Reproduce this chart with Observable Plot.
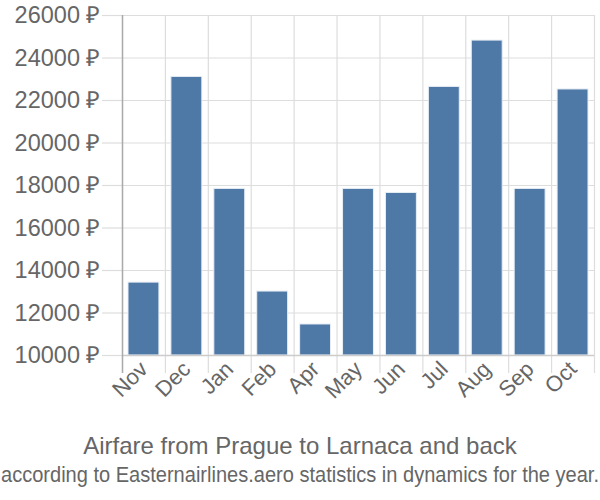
<!DOCTYPE html>
<html>
<head>
<meta charset="utf-8">
<script src="https://cdn.jsdelivr.net/npm/d3@7"></script>
<script src="https://cdn.jsdelivr.net/npm/@observablehq/plot@0.6"></script>
<style>
  html, body { margin: 0; padding: 0; background: #fff; }
  body { width: 600px; height: 500px; overflow: hidden; font-family: "Liberation Sans", Arial, sans-serif; }
  #chart svg, #caption svg { display: block; }
</style>
</head>
<body>
<div id="chart"></div>
<div id="caption">
  <svg width="600" height="80" viewBox="0 0 600 80" font-family="Liberation Sans, Arial, sans-serif" fill="#666">
    <text x="300" y="34" text-anchor="middle" font-size="24">Airfare from Prague to Larnaca and back</text>
    <text x="1" y="62" font-size="22.5" textLength="598" lengthAdjust="spacingAndGlyphs">according to Easternairlines.aero statistics in dynamics for the year.</text>
  </svg>
</div>
<script>
const months = ["Nov", "Dec", "Jan", "Feb", "Apr", "May", "Jun", "Jul", "Aug", "Sep", "Oct"];
const prices = [13430, 23110, 17840, 13010, 11460, 17840, 17650, 22640, 24820, 17840, 22520];
const yTicks = [10000, 12000, 14000, 16000, 18000, 20000, 22000, 24000, 26000];

const data = months.map((m, i) => ({month: m, i, price: prices[i]}));
const edges = d3.range(months.length + 1);
const centers = months.map((m, i) => i + 0.5);

const chart = Plot.plot({
  width: 600,
  height: 420,
  marginLeft: 122,
  marginRight: 6,
  marginTop: 15,
  marginBottom: 65,
  style: {fontFamily: "Liberation Sans, Arial, sans-serif", color: "#666", background: "#fff"},
  x: {domain: [0, months.length], axis: null},
  y: {domain: [10000, 26000], axis: null},
  marks: [
    Plot.ruleY(yTicks, {x1: 0, x2: months.length, stroke: "#ddd", strokeWidth: 1.2}),
    Plot.ruleX(edges, {y1: 10000, y2: 26000, stroke: "#ddd", strokeWidth: 1.2}),
    Plot.axisX(edges, {label: null, tickSize: 18, tickFormat: () => "", stroke: "#ddd", strokeWidth: 1.2}),
    Plot.axisY(yTicks, {label: null, tickSize: 20, tickPadding: 2, tickFormat: d => d + " ₽", fontSize: 23.5, fill: "#666", stroke: "#ddd", strokeWidth: 1.2}),
    Plot.rectY(data, {x1: "i", x2: d => d.i + 1, y1: 10000, y2: "price", insetLeft: 6, insetRight: 6, fill: "#4e79a7", stroke: "#e8eef5", strokeWidth: 1}),
    Plot.ruleY([10000], {x1: 0, x2: months.length, stroke: "#ccc", strokeWidth: 1.5}),
    Plot.ruleX([0], {y1: 9150, y2: 26000, stroke: "#aaa", strokeWidth: 1.5}),
    Plot.axisX(centers, {label: null, tickSize: 0, tickPadding: 10, tickRotate: -45, textAnchor: "end", tickFormat: (d, k) => months[k], fontSize: 22, fill: "#666"})
  ]
});
document.getElementById("chart").appendChild(chart);
</script>
</body>
</html>
